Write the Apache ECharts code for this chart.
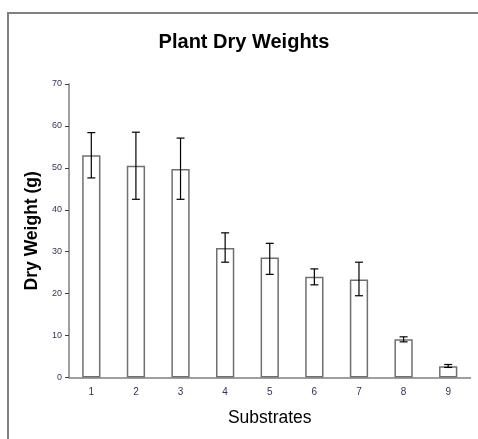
<!DOCTYPE html>
<html><head><meta charset="utf-8">
<script src="https://cdn.jsdelivr.net/npm/echarts@6/dist/echarts.min.js"></script>
<style>html,body{margin:0;padding:0;background:#fff}#c{width:478px;height:439px}</style>
</head><body><div id="c"></div>
<script>
var categories = ['1','2','3','4','5','6','7','8','9'];
var meanWeights = [53.0, 50.5, 49.7, 30.9, 28.6, 24.0, 23.4, 9.1, 2.7];
var errLow = [47.6, 42.5, 42.5, 27.5, 24.6, 22.1, 19.5, 8.5, 2.4];
var errHigh = [58.4, 58.5, 57.1, 34.5, 32.0, 25.9, 27.5, 9.7, 3.1];
var yTicks = [0, 10, 20, 30, 40, 50, 60, 70];

var chart = echarts.init(document.getElementById('c'), null, {renderer: 'canvas'});
var errData = categories.map(function (c, i) { return [i, errLow[i], errHigh[i]]; });
chart.setOption({
  animation: false,
  backgroundColor: '#fff',
  title: {
    text: 'Plant Dry Weights', left: 239, top: 27, textAlign: 'center',
    textStyle: {fontFamily: 'Liberation Sans, Arial, sans-serif', fontSize: 20, fontWeight: 'bold', color: '#000'}
  },
  graphic: [
    {type: 'line', shape: {x1: 8, y1: 13, x2: 478, y2: 13}, style: {stroke: '#808080', lineWidth: 2}},
    {type: 'line', shape: {x1: 8, y1: 12, x2: 8, y2: 439}, style: {stroke: '#808080', lineWidth: 2}}
  ],
  grid: {left: 69, right: 7.5, top: 84, bottom: 61.5},
  xAxis: {
    type: 'category', data: categories,
    name: 'Substrates', nameLocation: 'middle', nameGap: 32,
    nameTextStyle: {fontFamily: 'Liberation Sans, Arial, sans-serif', fontSize: 17.5, color: '#000'},
    axisLine: {lineStyle: {color: '#808080', width: 1.5}},
    axisTick: {alignWithLabel: false, length: 4, lineStyle: {color: '#404040'}},
    axisLabel: {fontFamily: 'Liberation Sans, Arial, sans-serif', fontSize: 10, color: '#333355', margin: 10}
  },
  yAxis: {
    type: 'value', min: yTicks[0], max: yTicks[yTicks.length - 1], interval: 10,
    name: 'Dry Weight (g)', nameLocation: 'middle', nameGap: 27, nameRotate: 90,
    nameTextStyle: {fontFamily: 'Liberation Sans, Arial, sans-serif', fontSize: 17.5, fontWeight: 'bold', color: '#000'},
    axisLine: {show: true, lineStyle: {color: '#808080', width: 1.5}},
    axisTick: {show: true, length: 4, lineStyle: {color: '#404040'}},
    splitLine: {show: false},
    axisLabel: {fontFamily: 'Liberation Sans, Arial, sans-serif', fontSize: 9, color: '#333355', margin: 7}
  },
  series: [
    {
      type: 'bar', data: meanWeights, barWidth: '41%',
      itemStyle: {color: '#fff', borderColor: '#707070', borderWidth: 1.5}
    },
    {
      type: 'custom', data: errData, z: 10,
      renderItem: function (params, api) {
        var x = api.value(0);
        var lo = api.coord([x, api.value(1)]);
        var hi = api.coord([x, api.value(2)]);
        var hw = 4;
        var st = {stroke: '#000', lineWidth: 1.2};
        return {type: 'group', children: [
          {type: 'line', shape: {x1: hi[0], y1: hi[1], x2: lo[0], y2: lo[1]}, style: st},
          {type: 'line', shape: {x1: hi[0] - hw, y1: hi[1], x2: hi[0] + hw, y2: hi[1]}, style: st},
          {type: 'line', shape: {x1: lo[0] - hw, y1: lo[1], x2: lo[0] + hw, y2: lo[1]}, style: st}
        ]};
      }
    }
  ]
});
</script></body></html>
